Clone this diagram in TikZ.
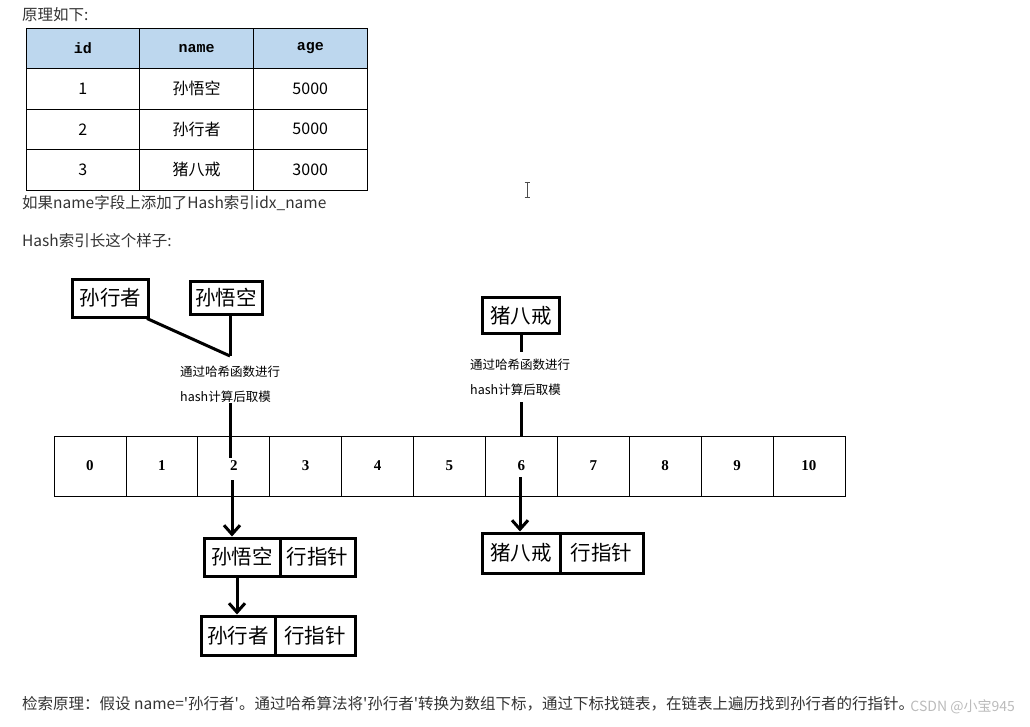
\documentclass[tikz,border=0pt]{standalone}
\usepackage{fontspec}
\setmainfont{Noto Sans CJK SC}
\newfontfamily\rawfont{Noto Sans CJK SC}[Ligatures=TeXOff]
\newfontfamily\hdrfont{Liberation Mono}
\newfontfamily\numfont{Liberation Serif}
\usetikzlibrary{arrows.meta}
\definecolor{hdrblue}{HTML}{BDD7EE}
\definecolor{bodytxt}{HTML}{333333}
\definecolor{wmark}{HTML}{BBBBBB}
\begin{document}
\begin{tikzpicture}[x=1pt,y=-1pt,
  para/.style={inner sep=0pt,anchor=west,text=bodytxt,font=\fontsize{15.5}{18}\selectfont},
  tcell/.style={draw,line width=0.9pt,inner sep=0pt,minimum width=113.7pt,minimum height=40.5pt,font=\fontsize{16}{18}\selectfont},
  thdr/.style={tcell,fill=hdrblue,font=\hdrfont\bfseries\fontsize{15}{17}\selectfont},
  acell/.style={draw,line width=0.8pt,inner sep=0pt,minimum width=71.9pt,minimum height=60pt,font=\numfont\bfseries\fontsize{15}{17}\selectfont},
  bigbox/.style={draw,line width=3pt,inner sep=0pt,font=\fontsize{20.5}{22}\selectfont},
  htxt/.style={inner sep=0pt,anchor=west,font=\fontsize{12.5}{14}\selectfont},
  link/.style={line width=3pt},
  arr/.style={line width=3pt,-{Straight Barb[length=9pt,width=16pt,line width=3pt]}}]
\useasboundingbox (0,0) rectangle (1030,727);

% texts
\node[para] (p1) at (22,15) {原理如下:};
\node[para] (p2) at (22,203) {如果name字段上添加了Hash索引idx\_name};
\node[para] (p3) at (22,241) {Hash索引长这个样子:};

% text cursor
\draw[line width=0.8pt,black!70] (527,182) -- (527,197) (524.5,182) -- (529.5,182) (524.5,197) -- (529.5,197);

% table
\node[thdr] (h1) at (82.85,48.25) {id};
\node[thdr] (h2) at (196.55,48.25) {name};
\node[thdr] (h3) at (310.25,48.25) {age};
\node[tcell] (r11) at (82.85,88.75) {1};
\node[tcell] (r12) at (196.55,88.75) {孙悟空};
\node[tcell] (r13) at (310.25,88.75) {5000};
\node[tcell] (r21) at (82.85,129.25) {2};
\node[tcell] (r22) at (196.55,129.25) {孙行者};
\node[tcell] (r23) at (310.25,129.25) {5000};
\node[tcell] (r31) at (82.85,169.75) {3};
\node[tcell] (r32) at (196.55,169.75) {猪八戒};
\node[tcell] (r33) at (310.25,169.75) {3000};

% top boxes
\node[bigbox,minimum width=76pt,minimum height=38pt] (xz) at (110.5,298) {孙行者};
\node[bigbox,minimum width=72pt,minimum height=33pt] (wk) at (226,297.5) {孙悟空};
\node[bigbox,minimum width=77pt,minimum height=36pt] (bj) at (521,315.5) {猪八戒};

\coordinate (j1) at (230,356);
\draw[link] (xz.south east) ++(-3,0) coordinate (xs) -- (j1);
\draw[link] (wk.south -| j1) -- (j1);
\coordinate (j2) at (521,352);
\draw[link] (bj.south -| j2) -- (j2);

\node[htxt] (ha1) at (180,372) {通过哈希函数进行};
\node[htxt] (hb1) at (180,397) {hash计算后取模};
\node[htxt] (ha2) at (470,365) {通过哈希函数进行};
\node[htxt] (hb2) at (470,390) {hash计算后取模};

% array
\foreach \i in {0,...,10} {
  \node[acell] (a\i) at ({54+71.9*\i+35.95},466) {\i};
}

\coordinate (k1) at (230,403);
\coordinate (k1e) at (230,458);
\draw[link] (k1) -- (k1e);
\coordinate (k2) at (521,402);
\draw[link] (k2) -- (a6.north -| k2);

% chains
\node[bigbox,minimum width=76pt,minimum height=38pt] (c1a) at (242,557) {孙悟空};
\node[bigbox,minimum width=75pt,minimum height=38pt] (c1b) at (317.5,557) {行指针};
\node[bigbox,minimum width=74pt,minimum height=39pt] (c2a) at (238,635.5) {孙行者};
\node[bigbox,minimum width=80pt,minimum height=39pt] (c2b) at (315,635.5) {行指针};
\node[bigbox,minimum width=78pt,minimum height=40pt] (c3a) at (521,553) {猪八戒};
\node[bigbox,minimum width=83pt,minimum height=40pt] (c3b) at (601.5,553) {行指针};

\coordinate (s1) at (232,480);
\draw[arr] (s1) -- (c1a.north -| s1);
\coordinate (s2) at (237,577);
\draw[arr] (s2) -- (c2a.north -| s2);
\coordinate (s3) at (520,477);
\draw[arr] (s3) -- (c3a.north -| s3);

% bottom
\node[para,font=\rawfont\fontsize{15.5}{18}\selectfont] (p4) at (22,704) {检索原理：假设 name='孙行者'。通过哈希算法将'孙行者'转换为数组下标，通过下标找链表，在链表上遍历找到孙行者的行指针。};
\node[inner sep=0pt,anchor=east,text=wmark,font=\fontsize{14}{16}\selectfont] (wm) at (1015,707) {CSDN @小宝945};
\end{tikzpicture}
\end{document}
